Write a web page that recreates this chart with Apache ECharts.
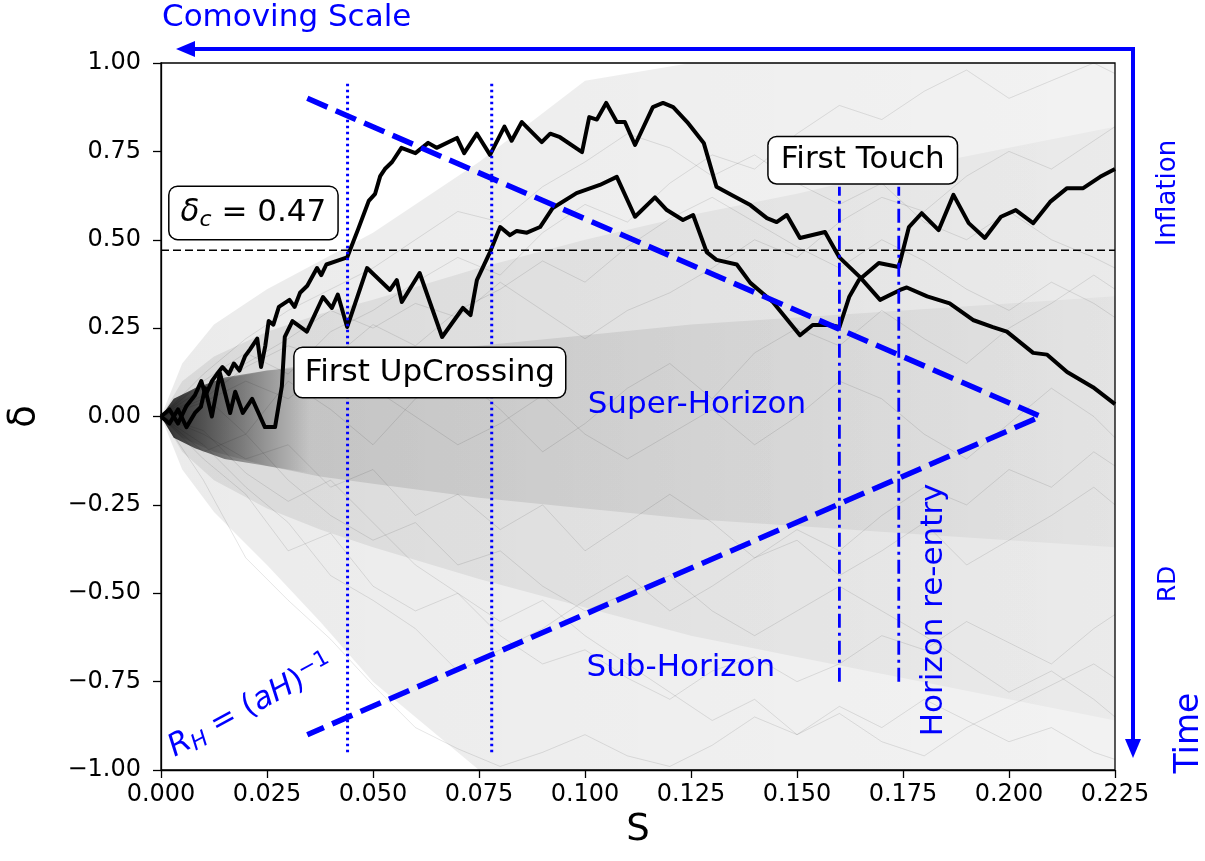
<!DOCTYPE html>
<html>
<head>
<meta charset="utf-8">
<script src="https://cdn.jsdelivr.net/npm/echarts/dist/echarts.min.js"></script>
<style>
html, body { margin: 0; padding: 0; background: #fff; }
#main { width: 1205px; height: 861px; }
</style>
</head>
<body>
<div id="main"></div>
<script>
// walks as [S, delta]
var walkA = [
  [0,0],[0.002,0.02],[0.004,-0.02],[0.006,0.03],[0.008,0.06],[0.0095,0.10],[0.0105,0.06],[0.012,0.10],
  [0.0132,0.12],[0.0145,0.14],[0.016,0.12],[0.0172,0.15],[0.0185,0.13],[0.0198,0.17],[0.021,0.19],
  [0.0227,0.22],[0.0236,0.14],[0.0246,0.20],[0.0254,0.27],[0.0265,0.26],[0.0278,0.31],[0.0303,0.33],
  [0.0315,0.31],[0.0328,0.35],[0.0345,0.37],[0.0368,0.42],[0.0378,0.40],[0.039,0.43],[0.0415,0.44],
  [0.0439,0.45],[0.0465,0.53],[0.049,0.61],[0.0505,0.63],[0.0517,0.68],[0.0528,0.70],[0.0545,0.72],
  [0.0567,0.76],[0.060,0.745],[0.063,0.774],[0.065,0.76],[0.0698,0.788],[0.0715,0.745],[0.0745,0.80],
  [0.0776,0.74],[0.081,0.82],[0.0827,0.78],[0.0851,0.833],[0.0878,0.80],[0.0898,0.776],[0.0918,0.80],
  [0.0941,0.79],[0.0993,0.748],[0.101,0.847],[0.1028,0.84],[0.105,0.887],[0.1075,0.833],[0.1094,0.833],
  [0.1118,0.768],[0.116,0.875],[0.1184,0.887],[0.1208,0.875],[0.1241,0.833],[0.128,0.774],[0.131,0.65],
  [0.1348,0.625],[0.139,0.598],[0.1429,0.561],[0.1452,0.55],[0.1476,0.57],[0.1507,0.505],[0.1566,0.522],
  [0.160,0.45],[0.1648,0.395],[0.1696,0.33],[0.1743,0.358],[0.1759,0.365],[0.1807,0.34],[0.186,0.32],
  [0.1915,0.273],[0.1962,0.253],[0.1995,0.24],[0.2057,0.18],[0.209,0.175],[0.2137,0.126],[0.2198,0.083],
  [0.225,0.035]
];
var walkB = [
  [0,0],[0.002,-0.02],[0.004,0.02],[0.006,-0.03],[0.008,0.01],[0.0094,0.027],[0.0104,0.08],[0.012,0.0],
  [0.0139,0.123],[0.0163,0.01],[0.0175,0.07],[0.0193,0.01],[0.0215,0.05],[0.0245,-0.03],[0.0269,-0.03],
  [0.0285,0.085],[0.0292,0.225],[0.031,0.27],[0.0344,0.24],[0.0382,0.338],[0.0403,0.307],[0.0417,0.345],
  [0.0439,0.253],[0.0486,0.42],[0.054,0.358],[0.0556,0.386],[0.0568,0.324],[0.061,0.406],[0.0663,0.225],
  [0.0712,0.307],[0.073,0.287],[0.0745,0.386],[0.0776,0.465],[0.080,0.536],[0.0823,0.513],[0.0839,0.525],
  [0.0863,0.52],[0.0894,0.536],[0.0924,0.59],[0.098,0.632],[0.1035,0.655],[0.1075,0.678],[0.1118,0.565],
  [0.1165,0.62],[0.1193,0.584],[0.1231,0.556],[0.1255,0.57],[0.1287,0.465],[0.131,0.443],[0.1358,0.43],
  [0.139,0.378],[0.1443,0.324],[0.1507,0.23],[0.1537,0.259],[0.1577,0.259],[0.160,0.253],[0.1623,0.338],
  [0.1646,0.386],[0.1693,0.434],[0.174,0.423],[0.1764,0.536],[0.1794,0.575],[0.1834,0.527],[0.1869,0.627],
  [0.1905,0.547],[0.1943,0.505],[0.1981,0.565],[0.2016,0.584],[0.2057,0.547],[0.2097,0.607],[0.2137,0.646],
  [0.2175,0.646],[0.2215,0.678],[0.225,0.70]
];

// a few of the faint background walks
var greyS = [0,0.01,0.02,0.03,0.04,0.05,0.06,0.07,0.08,0.09,0.10,0.11,0.12,0.13,0.14,0.15,0.16,0.17,0.18,0.19,0.20,0.21,0.22,0.225];
var greyWalks = [
  [0,-0.18,-0.4,-0.52,-0.63,-0.76,-0.88,-0.94,-0.99,-0.95,-0.9,-0.96,-0.99,-0.93,-0.85,-0.9,-0.82,-0.88,-0.8,-0.86,-0.92,-0.88,-0.95,-0.97],
  [0,-0.12,-0.22,-0.38,-0.33,-0.48,-0.55,-0.5,-0.62,-0.7,-0.66,-0.74,-0.8,-0.72,-0.68,-0.75,-0.7,-0.62,-0.66,-0.58,-0.64,-0.7,-0.6,-0.56],
  [0,0.1,0.18,0.12,0.24,0.3,0.38,0.45,0.4,0.52,0.6,0.55,0.66,0.74,0.7,0.8,0.88,0.84,0.92,0.98,0.9,0.95,1.0,0.97],
  [0,0.06,-0.05,0.1,0.02,-0.08,0.05,0.12,0.02,-0.1,-0.02,0.08,0.15,0.05,0.18,0.25,0.2,0.3,0.22,0.15,0.25,0.32,0.4,0.36],
  [0,-0.05,-0.12,-0.08,-0.2,-0.15,-0.28,-0.22,-0.32,-0.25,-0.38,-0.3,-0.22,-0.3,-0.4,-0.35,-0.45,-0.38,-0.3,-0.42,-0.35,-0.28,-0.2,-0.25],
  [0,0.08,0.15,0.22,0.3,0.25,0.32,0.28,0.38,0.3,0.22,0.3,0.35,0.42,0.5,0.45,0.55,0.62,0.58,0.68,0.75,0.7,0.78,0.82],
  [0,-0.1,-0.05,-0.18,-0.28,-0.35,-0.3,-0.42,-0.38,-0.48,-0.55,-0.5,-0.45,-0.55,-0.62,-0.55,-0.48,-0.55,-0.62,-0.7,-0.78,-0.72,-0.8,-0.85],
  [0,0.04,0.1,0.05,0.14,0.08,0.0,-0.08,-0.02,0.06,-0.05,-0.12,-0.05,0.02,-0.08,0.0,0.1,0.05,-0.05,-0.12,-0.02,0.08,0.0,-0.06],
  [0,0.12,0.22,0.3,0.36,0.42,0.5,0.58,0.55,0.65,0.72,0.8,0.76,0.68,0.74,0.66,0.6,0.66,0.55,0.5,0.58,0.5,0.45,0.42],
  [0,-0.08,-0.2,-0.3,-0.45,-0.52,-0.6,-0.72,-0.66,-0.6,-0.52,-0.45,-0.55,-0.48,-0.4,-0.32,-0.38,-0.28,-0.2,-0.25,-0.15,-0.2,-0.1,-0.14],
  [0,0.05,0.14,0.2,0.16,0.26,0.2,0.3,0.36,0.44,0.38,0.48,0.56,0.62,0.55,0.48,0.42,0.5,0.44,0.36,0.3,0.38,0.32,0.28],
  [0,-0.04,-0.16,-0.24,-0.18,-0.3,-0.42,-0.5,-0.58,-0.52,-0.62,-0.7,-0.78,-0.86,-0.8,-0.9,-0.84,-0.92,-0.96,-0.88,-0.82,-0.76,-0.7,-0.74]
];

// spread of the whole cloud of walks
var cloudS   = [0, 0.005, 0.0125, 0.025, 0.0375, 0.05, 0.075, 0.1, 0.125, 0.15, 0.175, 0.2, 0.225];
var outerHi  = [0, 0.15, 0.26, 0.36, 0.44, 0.52, 0.72, 0.95, 1.0, 1.0, 1.0, 1.0, 1.0];
var outerLo  = [0, -0.15, -0.27, -0.42, -0.58, -0.75, -1.0, -1.0, -1.0, -1.0, -1.0, -1.0, -1.0];
var midHi    = [0, 0.1, 0.17, 0.24, 0.29, 0.33, 0.42, 0.5, 0.57, 0.63, 0.7, 0.76, 0.82];
var midLo    = [0, -0.1, -0.18, -0.26, -0.32, -0.37, -0.46, -0.54, -0.62, -0.68, -0.74, -0.8, -0.86];
var innerHi  = [0, 0.06, 0.1, 0.13, 0.15, 0.17, 0.2, 0.23, 0.26, 0.28, 0.3, 0.32, 0.34];
var innerLo  = [0, -0.06, -0.1, -0.14, -0.17, -0.19, -0.23, -0.26, -0.29, -0.31, -0.33, -0.35, -0.37];
var coreS    = [0, 0.003, 0.008, 0.015, 0.025, 0.035];
var coreHi   = [0, 0.05, 0.08, 0.11, 0.13, 0.14];
var coreLo   = [0, -0.06, -0.09, -0.12, -0.14, -0.16];

var deltaC = 0.47;
var horizonS = [0.0345, 0.2075, 0.0345];
var horizonD = [0.9, 0, -0.9];
var upcrossS = [0.044, 0.078];
var upcrossSpan = [-0.95, 0.95];
var touchS = [0.160, 0.174];
var touchSpan = [-0.75, 0.65];

var xTicks = { min: 0, max: 0.225, step: 0.025 };
var yTicks = { min: -1, max: 1, step: 0.25 };

var FONT = 'DejaVu Sans';
var BLUE = '#0000ff';

function pairs(xs, ys) {
  return xs.map(function (x, i) { return [x, ys[i]]; });
}
function fade(a0, a1) {
  return new echarts.graphic.LinearGradient(0, 0, 1, 0, [
    { offset: 0, color: 'rgba(0,0,0,' + a0 + ')' },
    { offset: 1, color: 'rgba(0,0,0,' + a1 + ')' }
  ]);
}

var series = [];

// filled grey band between lo and hi, drawn through the axes with api.coord
function addBand(xs, lo, hi, fill) {
  series.push({
    type: 'custom', silent: true, z: 1, clip: true,
    data: [[xs[0], lo[0]]],
    encode: { x: 0, y: 1 },
    renderItem: function (params, api) {
      var pts = [];
      for (var i = 0; i < xs.length; i++) pts.push(api.coord([xs[i], hi[i]]));
      for (var j = xs.length - 1; j >= 0; j--) pts.push(api.coord([xs[j], lo[j]]));
      return { type: 'polygon', shape: { points: pts }, style: { fill: fill } };
    }
  });
}

addBand(cloudS, outerLo, outerHi, fade(0.08, 0.05));
addBand(cloudS, midLo, midHi, fade(0.08, 0.03));
addBand(cloudS, innerLo, innerHi, fade(0.12, 0.03));
addBand(coreS, coreLo, coreHi, fade(0.8, 0));

greyWalks.forEach(function (w) {
  series.push({
    type: 'line', data: pairs(greyS, w), symbol: 'none', silent: true, z: 2,
    lineStyle: { color: 'rgba(0,0,0,0.13)', width: 0.8 }
  });
});

series.push({
  type: 'line', data: [[xTicks.min, deltaC], [xTicks.max, deltaC]], symbol: 'none', z: 4,
  lineStyle: { color: '#000', width: 1.5, type: [8, 4] }
});

[walkA, walkB].forEach(function (w) {
  series.push({
    type: 'line', data: w, symbol: 'none', z: 5,
    lineStyle: { color: '#000', width: 4, join: 'round' }
  });
});

upcrossS.forEach(function (s) {
  series.push({
    type: 'line', data: pairs([s, s], upcrossSpan), symbol: 'none', z: 6,
    lineStyle: { color: BLUE, width: 3, type: [2.5, 3.5] }
  });
});
touchS.forEach(function (s) {
  series.push({
    type: 'line', data: pairs([s, s], touchSpan), symbol: 'none', z: 6,
    lineStyle: { color: BLUE, width: 2.8, type: [14, 5, 3, 5] }
  });
});

series.push({
  type: 'line', data: pairs(horizonS, horizonD), symbol: 'none', z: 7,
  lineStyle: { color: BLUE, width: 5.5, type: [22, 9] }
});

// text annotations
function mathRich(color) {
  return {
    i: { fontFamily: FONT, fontStyle: 'italic', fontSize: 31, lineHeight: 36, color: color },
    n: { fontFamily: FONT, fontSize: 31, lineHeight: 36, color: color },
    s: { fontFamily: FONT, fontStyle: 'italic', fontSize: 22, lineHeight: 22, verticalAlign: 'bottom', color: color },
    p: { fontFamily: FONT, fontSize: 22, lineHeight: 16, verticalAlign: 'top', color: color }
  };
}
function boxLabel(text, pad, rich) {
  return {
    show: true, position: 'inside', formatter: text,
    backgroundColor: '#fff', borderColor: '#000', borderWidth: 1.5, borderRadius: 8,
    padding: pad, fontFamily: FONT, fontSize: 31, color: '#000', lineHeight: 34,
    rich: rich || {}
  };
}
function blueLabel(text, rotate, rich) {
  return {
    show: true, position: 'inside', formatter: text, rotate: rotate || 0,
    fontFamily: FONT, fontSize: 31, color: BLUE, rich: rich || {}
  };
}

series.push({
  type: 'scatter', symbolSize: 1, itemStyle: { color: 'rgba(0,0,0,0)', opacity: 1 }, z: 10, silent: true,
  data: [
    { value: [0.0218, 0.576], label: boxLabel('{i|δ}{s|c}{n| = 0.47}', [8, 11, 8, 11], mathRich('#000')) },
    { value: [0.0634, 0.1245], label: boxLabel('First UpCrossing', [8, 10, 7, 10]) },
    { value: [0.1655, 0.725], label: boxLabel('First Touch', [6, 12, 6, 12]) },
    { value: [0.1264, 0.033], label: blueLabel('Super-Horizon') },
    { value: [0.1226, -0.711], label: blueLabel('Sub-Horizon') },
    { value: [0.1823, -0.547], label: blueLabel('Horizon re-entry', 90) },
    { value: [0.0212, -0.82], label: blueLabel('{i|R}{s|H}{n| = (}{i|aH}{n|)}{p|−1}', 28.5, mathRich(BLUE)) }
  ]
});

var myChart = echarts.init(document.getElementById('main'));

var option = {
  animation: false,
  backgroundColor: '#fff',
  grid: {
    left: 161, right: 90, top: 63, bottom: 91,
    show: true, borderColor: '#000', borderWidth: 1.3, backgroundColor: 'transparent',
    outerBoundsMode: 'none'
  },
  xAxis: {
    type: 'value', min: xTicks.min, max: xTicks.max, interval: xTicks.step,
    axisLine: { show: true, onZero: false, lineStyle: { color: '#000', width: 1.3 } },
    axisTick: { show: true, length: 8, lineStyle: { color: '#000', width: 1.3 } },
    axisLabel: {
      fontFamily: FONT, fontSize: 24, color: '#000', margin: 13,
      formatter: function (v) { return v.toFixed(3); }
    },
    splitLine: { show: false },
    name: 'S', nameLocation: 'middle', nameGap: 33,
    nameTextStyle: { fontFamily: FONT, fontSize: 37, color: '#000' }
  },
  yAxis: {
    type: 'value', min: yTicks.min, max: yTicks.max, interval: yTicks.step,
    axisLine: { show: true, onZero: false, lineStyle: { color: '#000', width: 1.3 } },
    axisTick: { show: true, length: 8, lineStyle: { color: '#000', width: 1.3 } },
    axisLabel: {
      fontFamily: FONT, fontSize: 24, color: '#000', margin: 20,
      formatter: function (v) { return (v < 0 ? '\u2212' : '') + Math.abs(v).toFixed(2); }
    },
    splitLine: { show: false },
    name: 'δ', nameLocation: 'middle', nameGap: 118, nameRotate: 90,
    nameTextStyle: { fontFamily: FONT, fontSize: 37, color: '#000' }
  },
  series: series,
  graphic: [
    { type: 'polyline', silent: true, shape: { points: [[190, 49], [1133, 49], [1133, 742]] },
      style: { stroke: BLUE, lineWidth: 4, fill: null, lineJoin: 'miter' } },
    { type: 'polygon', silent: true, shape: { points: [[176, 49], [195, 41], [195, 57]] }, style: { fill: BLUE } },
    { type: 'polygon', silent: true, shape: { points: [[1133, 758], [1125, 739], [1141, 739]] }, style: { fill: BLUE } },
    { type: 'text', silent: true, x: 162, y: 18,
      style: { text: 'Comoving Scale', fontFamily: FONT, fontSize: 31, fill: BLUE, verticalAlign: 'middle' } },
    { type: 'text', silent: true, x: 1168, y: 193, rotation: Math.PI / 2,
      style: { text: 'Inflation', fontFamily: FONT, fontSize: 26, fill: BLUE, align: 'center', verticalAlign: 'middle' } },
    { type: 'text', silent: true, x: 1168, y: 584, rotation: Math.PI / 2,
      style: { text: 'RD', fontFamily: FONT, fontSize: 25, fill: BLUE, align: 'center', verticalAlign: 'middle' } },
    { type: 'text', silent: true, x: 1189, y: 733, rotation: Math.PI / 2,
      style: { text: 'Time', fontFamily: FONT, fontSize: 33, fill: BLUE, align: 'center', verticalAlign: 'middle' } }
  ]
};

myChart.setOption(option);
</script>
</body>
</html>
